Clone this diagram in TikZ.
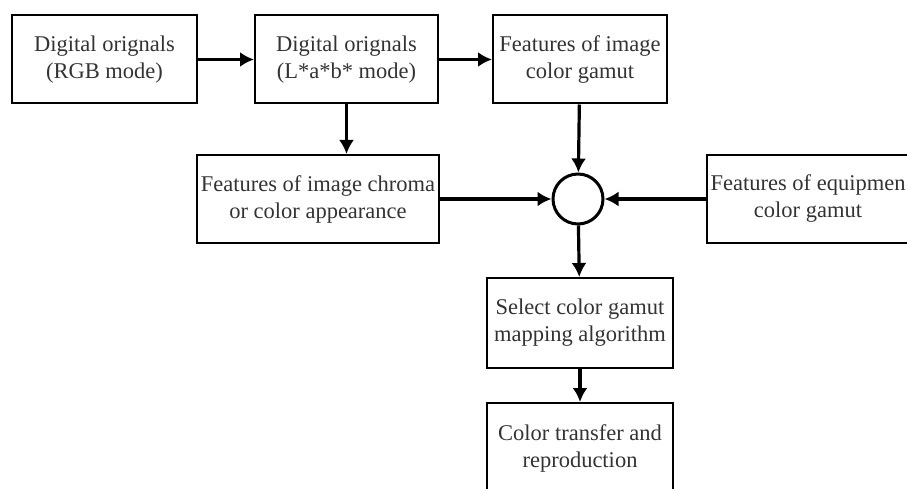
\documentclass[tikz,border=0pt]{standalone}
\usepackage{fontspec}
\setmainfont{Liberation Serif}
\usepackage{tikz}
\usetikzlibrary{shapes,arrows.meta,calc}
\tikzstyle{line} = [draw, line width=3.2pt, -{Latex[length=14pt,width=15pt]}]
\tikzstyle{block} = [draw, line width=2pt, rectangle, text centered, align=center, inner sep=1pt, minimum height=88pt, font=\fontsize{22.5}{27}\selectfont, text=black!80]
\tikzstyle{joint} = [draw, line width=3pt, circle, minimum size=50pt, inner sep=0pt]

\begin{document}
\begin{tikzpicture}[x=1pt, y=1pt, auto]
        \useasboundingbox (0,0) rectangle (907,488);
        \clip (0,0) rectangle (907,488);
        \node[block, minimum width=185pt] (rgb) at (104.5,428.5) {Digital orignals\\(RGB mode)};
        \node[block, minimum width=183pt, right of=rgb, node distance=242pt] (lab) {Digital orignals\\(L*a*b* mode)};
        \node[block, minimum width=174pt, right of=lab, node distance=233.5pt] (gamut) {Features of image\\color gamut};
        \node[block, minimum width=242pt] (chroma) at (318,289) {Features of image chroma\\or color appearance};
        \node[joint, below of=gamut, node distance=139.5pt, xshift=-2pt] (sum) {};
        \node[block, minimum width=202pt] (equip) at (808,289) {Features of equipmen\\color gamut};
        \node[block, minimum width=186pt, minimum height=90pt, below of=gamut, node distance=263.5pt] (select) {Select color gamut\\mapping algorithm};
        \node[block, minimum width=186pt, minimum height=90pt, below of=select, node distance=125pt] (transfer) {Color transfer and\\reproduction};
        \path[line] (rgb) -- (lab);
        \path[line] (lab) -- (gamut);
        \path[line] (lab) -- (lab |- chroma.north);
        \path[line] (gamut) -- (sum);
        \path[line] (chroma) -- (sum);
        \path[line] (equip) -- (sum);
        \path[line] (sum) -- (select);
        \path[line] (select) -- (transfer);
    \end{tikzpicture}
\end{document}
